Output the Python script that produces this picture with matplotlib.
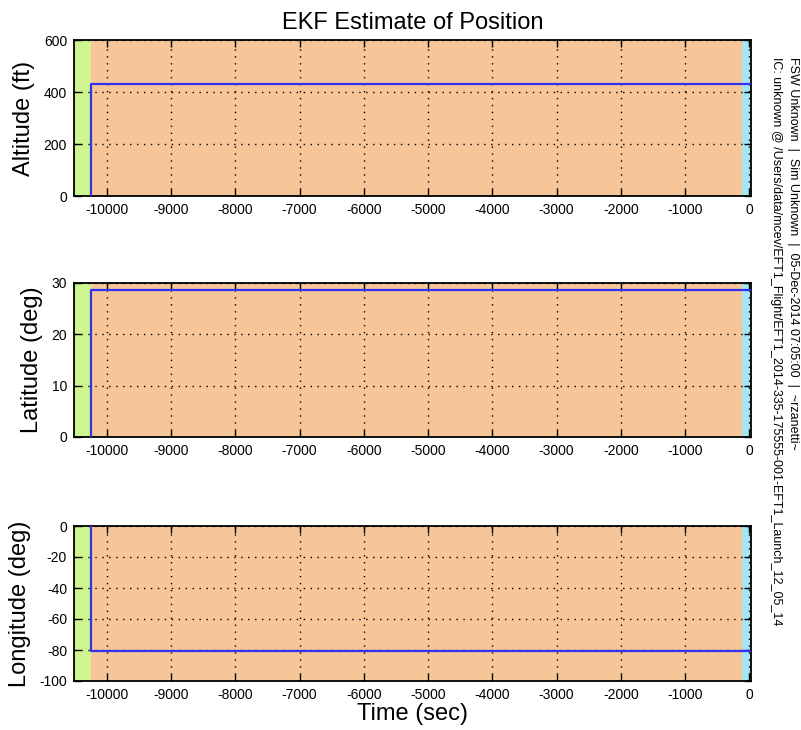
import matplotlib
matplotlib.use("Agg")
import matplotlib.pyplot as plt

plt.rcParams['font.family'] = ['Liberation Sans', 'DejaVu Sans']
plt.rcParams['axes.unicode_minus'] = False

# mission phases (sec): start, end, colour
phase_start = [-10510, -10250, -110]
phase_end = [-10250, -110, 25]
phase_color = ['#cff590', '#f7c698', '#a6e6f2']

# EKF estimate: state is zero until the filter initialises
time = [-10250, -10250, 25]
altitude = [0, 430, 430]
latitude = [0, 28.6, 28.6]
longitude = [0, -80.6, -80.6]

panels = [
    ("Altitude (ft)", altitude, (0, 600), [0, 200, 400, 600]),
    ("Latitude (deg)", latitude, (0, 30), [0, 10, 20, 30]),
    ("Longitude (deg)", longitude, (-100, 0), [-100, -80, -60, -40, -20, 0]),
]
xticks = list(range(-10000, 1, 1000))

fig = plt.figure(figsize=(8.01, 7.30), dpi=100)
W, H = 801.0, 730.0
boxes = [(40, 196), (283, 437), (526, 681)]  # top / bottom pixel rows

for (label, y, ylim, yticks), (top, bot) in zip(panels, boxes):
    ax = fig.add_axes([74 / W, 1 - bot / H, 677 / W, (bot - top) / H])
    for s, e, c in zip(phase_start, phase_end, phase_color):
        ax.axvspan(s, e, color=c, lw=0, zorder=0)
    ax.plot(time, y, color='#3232ee', lw=1.6, zorder=3)
    ax.set_xlim(phase_start[0], phase_end[-1])
    ax.set_ylim(*ylim)
    ax.set_xticks(xticks)
    ax.set_yticks(yticks)
    ax.grid(True, color='black', linestyle=(0, (1, 4)), lw=1.0)
    ax.set_axisbelow(False)
    ax.tick_params(direction='in', length=5, width=1, top=True, right=True,
                   labelsize=10, pad=5)
    for sp in ax.spines.values():
        sp.set_linewidth(1.3)
    ax.set_ylabel(label, fontsize=17, labelpad=6)
    if top == 40:
        ax.set_title("EKF Estimate of Position", fontsize=17, pad=8)
    if top == 526:
        ax.set_xlabel("Time (sec)", fontsize=17, labelpad=1)

fig.text(793 / W, 1 - 57 / H,
         "FSW Unknown  |  Sim Unknown  |  05-Dec-2014 07:05:00  |  ~rzanetti~",
         rotation=-90, fontsize=9, ha='center', va='top')
fig.text(776 / W, 1 - 57 / H,
         "IC: unknown @ /Users/data/mcev/EFT1_Flight/EFT1_2014-335-175555-001-EFT1_Launch_12_05_14",
         rotation=-90, fontsize=9, ha='center', va='top')

fig.savefig("out.png", dpi=100)
